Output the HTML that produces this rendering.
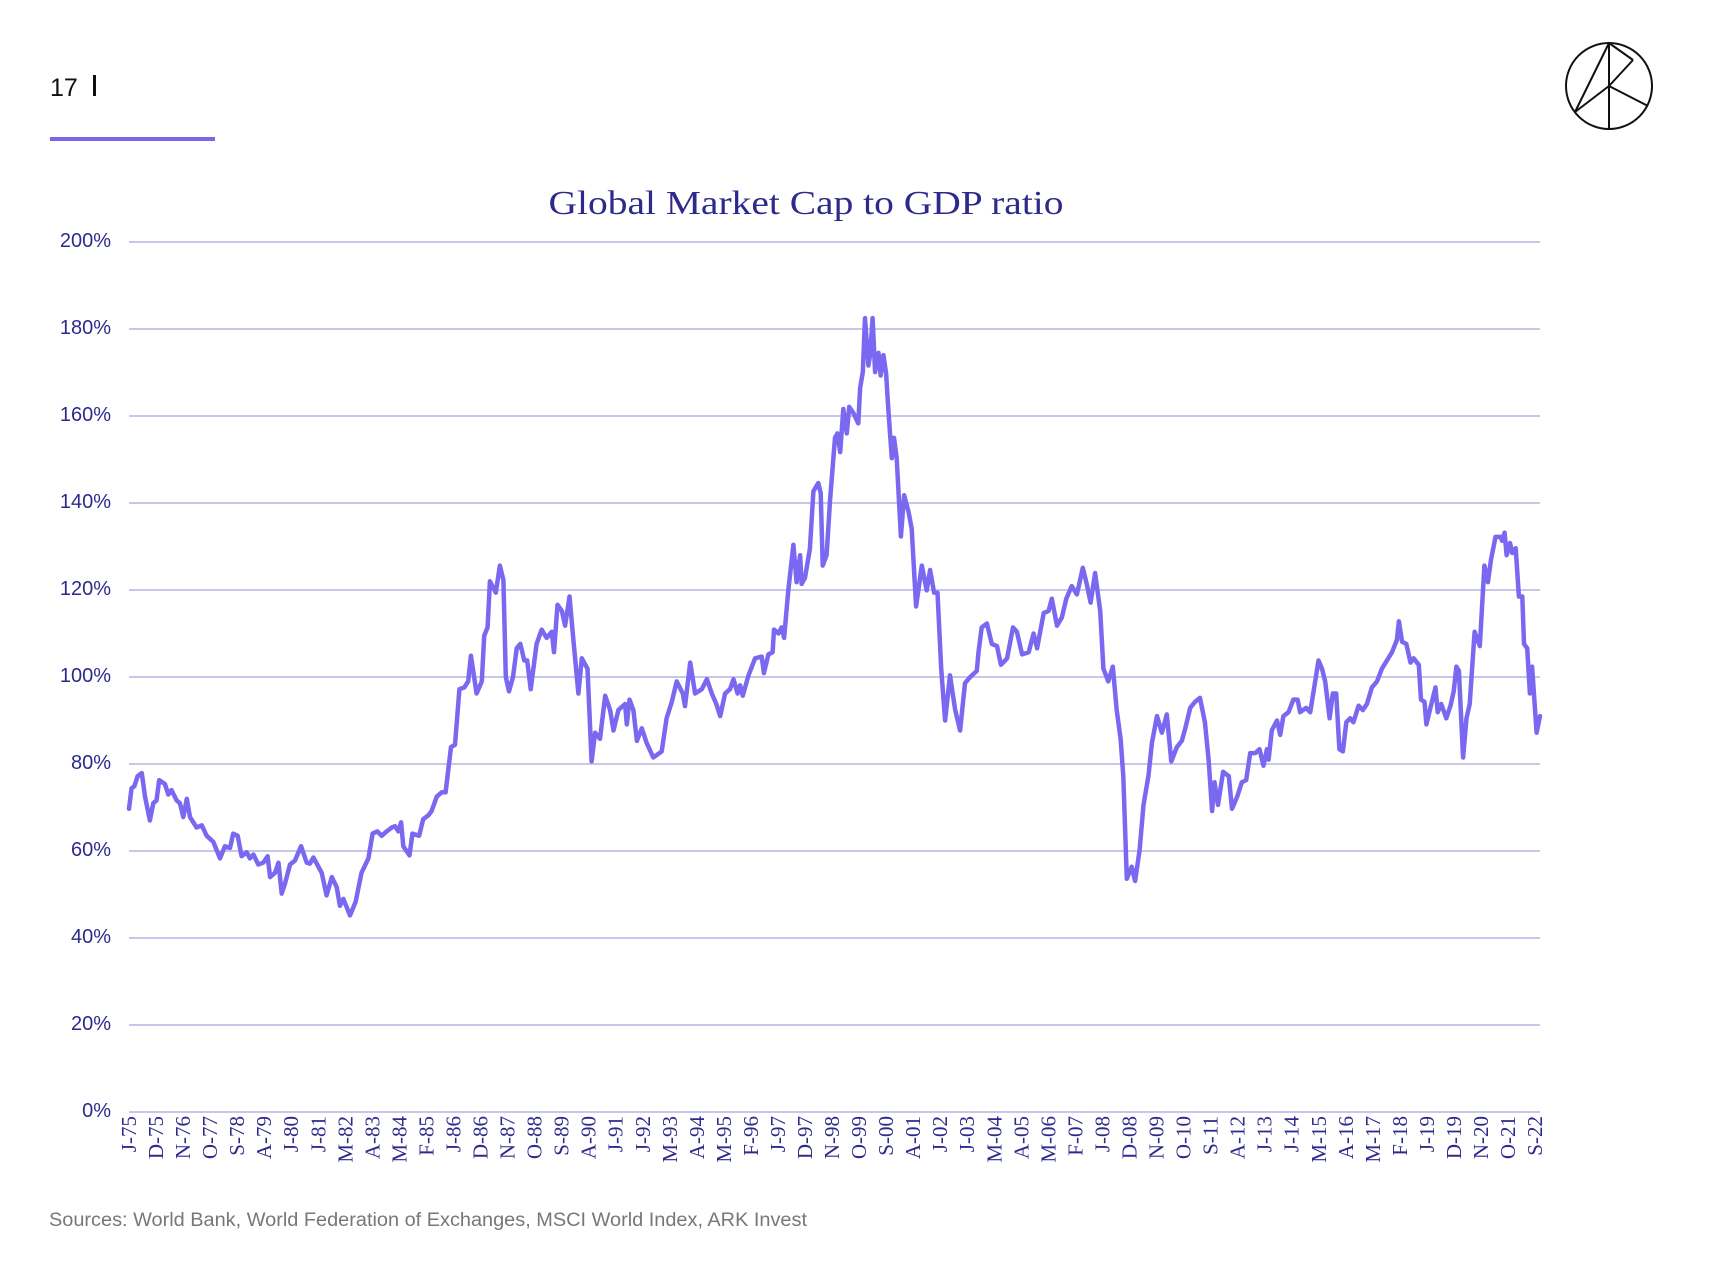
<!DOCTYPE html>
<html><head><meta charset="utf-8">
<style>
html,body{margin:0;padding:0;background:#fff;}
svg{display:block;}
</style></head>
<body>
<svg id="chart" width="1714" height="1270" viewBox="0 0 1714 1270" xmlns="http://www.w3.org/2000/svg">
  <text x="50" y="96" font-family="Liberation Sans, sans-serif" font-size="25" fill="#111">17</text>
  <rect x="93" y="75" width="3" height="21" fill="#111"/>
  <rect x="50" y="137" width="165" height="4" fill="#7a66e6"/>
  <g fill="none" stroke="#111" stroke-width="2">
    <circle cx="1609" cy="86" r="43"/>
    <line x1="1609" y1="43" x2="1609" y2="129"/>
    <line x1="1609" y1="43" x2="1575" y2="112"/>
    <line x1="1609" y1="43" x2="1633" y2="60"/>
    <line x1="1633" y1="60" x2="1609" y2="86"/>
    <line x1="1609" y1="86" x2="1648" y2="106"/>
    <line x1="1575" y1="112" x2="1609" y2="86"/>
  </g>
  <text x="806" y="214" text-anchor="middle" font-family="Liberation Serif, serif" font-size="34" fill="#2e2a8c" textLength="515" lengthAdjust="spacingAndGlyphs">Global Market Cap to GDP ratio</text>
  <g id="grid"></g>
  <g id="yaxis"></g>
  <g id="xaxis"></g>
  <g id="series"></g>
  <text x="49" y="1226" font-family="Liberation Sans, sans-serif" font-size="19" fill="#777" textLength="758" lengthAdjust="spacingAndGlyphs">Sources: World Bank, World Federation of Exchanges, MSCI World Index, ARK Invest</text>
</svg>
<script>
const yTicks = [0,20,40,60,80,100,120,140,160,180,200];
const xLabels = ["J-75","D-75","N-76","O-77","S-78","A-79","J-80","J-81","M-82","A-83","M-84","F-85","J-86","D-86","N-87","O-88","S-89","A-90","J-91","J-92","M-93","A-94","M-95","F-96","J-97","D-97","N-98","O-99","S-00","A-01","J-02","J-03","M-04","A-05","M-06","F-07","J-08","D-08","N-09","O-10","S-11","A-12","J-13","J-14","M-15","A-16","M-17","F-18","J-19","D-19","N-20","O-21","S-22"];
// months since Jan 1975
const months = [0,1,2.2,3.5,5.2,6.5,8.5,9.9,11.2,12.3,14.6,16,17.3,19.4,20.7,22.1,23.5,24.8,27.5,29.6,31.6,34.3,37,39,41.1,42.4,44.2,45.8,47.9,49.2,50.6,52.6,54.6,56.4,57.4,59.4,60.8,62.1,63.5,65.5,67.5,70,72.3,73.6,75,78.4,80.4,82.5,84.5,85.8,87.2,89.9,92.2,94.6,97.4,99.1,101,102.8,104.8,106.9,108.2,109.6,110.7,111.6,114.1,115.3,118,119.7,121.8,123.1,125.2,127.2,128.8,131,132.6,134.4,136.4,138,139.1,141.4,143.5,144.5,145.9,146.8,149.2,150.9,152.3,153.3,154.6,156.2,157.7,159.2,160.8,162,163.4,165.8,167.9,169.9,172,172.9,174.3,176.1,177.4,179.2,180.8,182.8,184.2,186.5,188.2,189.6,191.6,193.7,195.7,197.1,199.1,201.8,202.5,203.6,205.2,206.6,208.6,210.6,213.3,216.7,218.7,220.8,222.8,225.3,226.2,228.3,230.3,233,235.1,237.1,238.9,240.5,242.5,244.5,245.9,247.6,248.6,249.7,252,254.7,257.4,258.3,260.1,261.8,262.4,264.2,265.5,266.5,268.2,270.3,271.6,273,273.6,275,277,278.4,280.4,281.4,282.2,283.8,285.2,287.2,288.2,289.3,290.6,292,293,294.7,296.7,297.4,298.5,299.4,300.8,301.5,302.5,303.5,304.9,305.8,306.9,308,308.9,310.3,311.2,312.3,314,315.3,317.1,318.4,320.2,322.5,324.5,325.9,327.5,328.9,330.4,332,334,336.1,338.1,340.1,342.2,344.9,345.6,346.9,349,351,353.1,354.7,357.2,359.6,361.2,363.3,366,368,369.4,372.1,374.1,375.4,377.5,379.5,381.3,383.5,385.6,388,389.6,391.2,393,395.1,396.4,398.4,400.2,401.8,403.4,404.5,405.9,407.9,409.3,411.1,412.7,414.7,416.1,418.2,420.2,422.2,424,426.3,428.3,429.7,431.7,433.7,435.7,437.7,439.2,440.6,441.6,443,445.1,447.4,448.7,450.8,452.7,454.5,456.1,458.2,459.9,461.5,462.9,463.6,464.9,467,468.3,469.6,471.7,473.7,475.4,476.4,478.9,480.5,481.9,483.9,485.3,486.6,488.4,489.7,491.1,492.4,493.8,495.2,496.8,498.1,500.2,501.9,503.6,505.6,507.7,509.7,511.7,513.8,515.8,516.6,517.9,519.6,521.3,522.6,524.7,525.6,527,527.8,529.4,531.5,532.4,533.8,535.9,537.6,538.9,540,541,542.7,544.1,545.4,547.4,549.5,551.4,552.8,554.1,555.9,557.9,558.6,559.6,560.4,561.8,562.7,564.1,565.4,566.8,567.5,568.8,569.9,570.8,572.6,574];
const ratios = [69.7,74.4,74.9,77.2,77.9,72.5,67,71,71.6,76.3,75.4,73,74,71.6,71,67.8,72,67.8,65.4,65.9,63.5,62.1,58.3,61.1,60.7,64,63.5,58.8,59.7,58.3,59.2,56.9,57.3,58.8,54,55,57.3,50.2,52.6,56.9,57.8,61.1,57.3,57.1,58.5,55,49.8,54,51.7,47.4,49,45.2,48.3,55,58.3,64,64.5,63.5,64.5,65.4,65.7,64.5,66.6,61.1,59,64,63.5,67.3,68.2,69.2,72.5,73.5,73.5,83.9,84.4,97.2,97.6,99,104.9,96.2,99,109.5,111.4,122,119.4,125.6,122.3,100,96.7,100,106.6,107.6,103.8,103.8,97.2,107.6,110.9,109,110.4,105.7,116.6,115.2,111.8,118.5,108.5,96.2,104.3,101.9,80.6,87.2,85.8,95.7,92.4,87.7,92.4,93.8,89.1,94.8,92.4,85.3,88.2,84.8,81.5,82.9,90.5,94.3,99,96.2,93.3,103.3,96.2,97.2,99.5,96.2,93.8,91,96.2,97.2,99.5,96.2,98.1,95.7,100.4,104.3,104.7,100.9,105.2,105.7,110.9,110,111.4,109,119.9,130.4,121.8,128,121.4,122.8,129.5,142.7,144.6,142.3,125.6,128,140.8,155,156,151.7,161.6,156,162.1,160.7,158.3,166.4,170.1,182.5,171.6,174,182.5,170.1,174.5,169.3,174,169.8,161.6,150.3,155,150.3,132.3,141.8,138,134.1,116.2,125.6,119.9,124.6,119.4,119.4,101.9,90,100.4,92.4,87.7,98.6,100,101.4,105.7,111.4,112.3,107.6,107.1,102.8,104.3,111.4,110.4,105.2,105.7,110,106.6,114.7,115.2,118,111.8,113.7,118,120.9,119,125.1,121.4,117.1,123.9,115.2,101.9,99,102.4,92.4,85.8,77.2,53.6,56.4,53.1,60.2,70.6,77.2,84.8,91,87.2,91.4,80.6,83.9,85.3,88.2,92.9,94.3,95.2,89.6,81,69.2,75.8,70.6,78.2,77.2,69.7,72.5,75.8,76.3,82.5,82.5,83.4,79.6,83.4,81,87.7,90,86.7,91,91.9,94.8,94.8,91.9,92.9,91.9,96.7,103.8,101.9,99,90.5,96.2,96.2,83.4,82.9,89.6,90.5,89.6,93.4,92.4,93.8,97.6,99,101.9,103.8,105.7,108.5,112.8,108.1,107.6,103.3,104.3,102.8,94.8,94.3,89.1,92.9,97.6,91.9,93.8,90.5,93.4,96.7,102.4,101.4,81.5,90.5,93.8,110.4,107.1,125.6,121.8,127.1,132.2,132.2,131.3,133.2,128,130.8,128.5,129.6,118.5,118.5,107.6,106.6,96.2,102.4,87.2,91];

const NS = "http://www.w3.org/2000/svg";
const X0 = 129, X1 = 1540, MMAX = 574, Y0 = 1112, Y1 = 242, VMAX = 200;
function xScale(m){ return X0 + m * (X1 - X0) / MMAX; }
function yScale(v){ return Y0 - v * (Y0 - Y1) / VMAX; }
function mk(tag, attrs){ const e = document.createElementNS(NS, tag); for (const k in attrs) e.setAttribute(k, attrs[k]); return e; }

const grid = document.getElementById('grid');
const yaxis = document.getElementById('yaxis');
yTicks.forEach(t => {
  const y = yScale(t);
  const ln = mk('line', {x1: X0, x2: X1, y1: y, y2: y, stroke: '#c9c6ec', 'stroke-width': 2});
  
  
  grid.appendChild(ln);
  const tx = mk('text', {x: 111, y: y + 5, 'text-anchor': 'end', 'font-family': 'Liberation Sans, sans-serif', 'font-size': 20, fill: '#2e2a8c'});
  tx.textContent = t + '%';
  
  
  yaxis.appendChild(tx);
});

const xaxis = document.getElementById('xaxis');
xLabels.forEach((lab, i) => {
  const x = xScale(i * 11) + 7;
  const tx = mk('text', {x: 0, y: 0, 'text-anchor': 'end', transform: 'translate(' + x + ',1116) rotate(-90)', 'font-family': 'Liberation Serif, serif', 'font-size': 21, fill: '#2e2a8c'});
  tx.textContent = lab;
  
  
  xaxis.appendChild(tx);
});

const pts = months.map((m, i) => xScale(m).toFixed(1) + ',' + yScale(ratios[i]).toFixed(1)).join(' ');
const line = mk('polyline', {points: pts, fill: 'none', stroke: '#7b68f0', 'stroke-width': 4.5, 'stroke-linejoin': 'round', 'stroke-linecap': 'round'});


document.getElementById('series').appendChild(line);
</script>
</body></html>
